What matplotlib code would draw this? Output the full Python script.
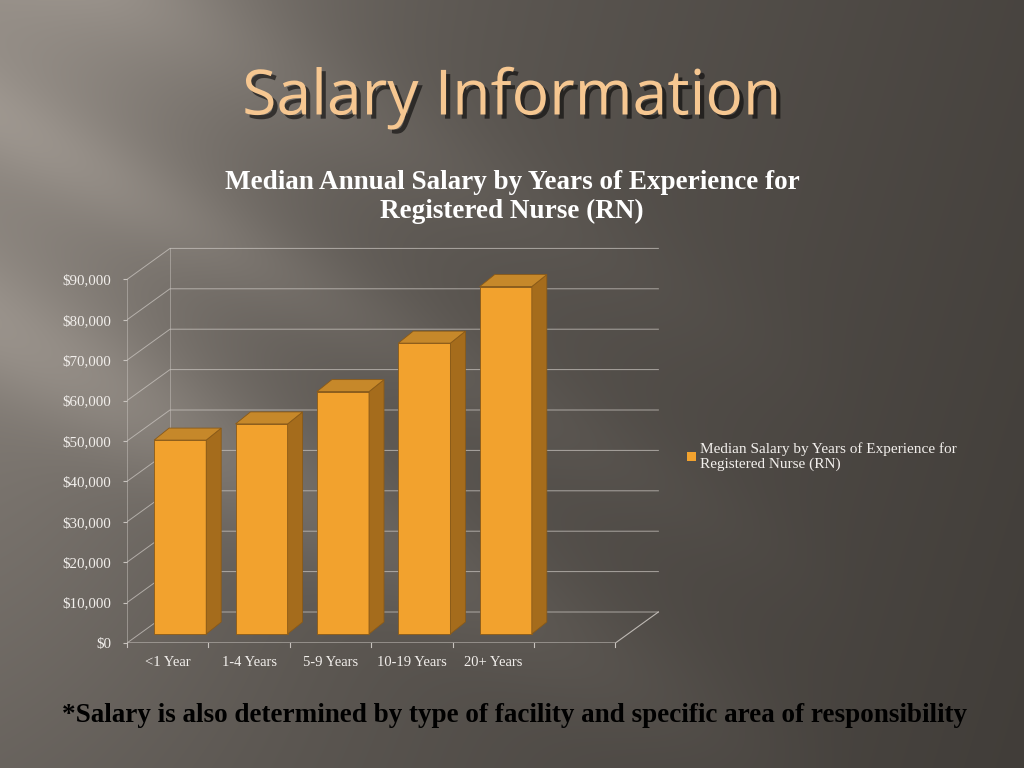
import numpy as np
import matplotlib
matplotlib.use("Agg")
from matplotlib import pyplot as plt
from matplotlib.patches import Polygon
import matplotlib.patheffects as pe

categories = ["<1 Year", "1-4 Years", "5-9 Years", "10-19 Years", "20+ Years"]
salaries = [48000, 52000, 60000, 72000, 86000]
y_ticks = list(range(0, 100000, 10000))
y_labels = ["$0"] + ["${:,}".format(v) for v in y_ticks[1:]]
slide_title = "Salary Information"
chart_title = "Median Annual Salary by Years of Experience for\nRegistered Nurse (RN)"
legend_label = "Median Salary by Years of Experience for\nRegistered Nurse (RN)"
footnote = "*Salary is also determined by type of facility and specific area of responsibility"

W, H = 1024, 768
fig = plt.figure(figsize=(W / 100, H / 100), dpi=100)

# background: dark warm grey, lighter at the left with diagonal light streaks
bg = fig.add_axes([0, 0, 1, 1])
py, px = np.mgrid[0:H, 0:W].astype(float)
base = 0.40 - 0.13 * (px / W) - 0.03 * (py / H)
base += 0.17 * np.exp(-(px / 280.0) ** 2) * np.clip(1 - py / 900.0, 0, 1)
d = py - 0.55 * px
streak = (0.09 * np.exp(-((d - 330) / 70.0) ** 2)
          + 0.06 * np.exp(-((d - 120) / 50.0) ** 2)
          + 0.05 * np.exp(-((d + 80) / 60.0) ** 2))
streak *= np.clip(1.15 - px / 750.0, 0, 1)
lum = base + streak
img = np.dstack([lum + 0.015, lum * 0.965 + 0.008, lum * 0.93])
bg.imshow(np.clip(img, 0, 1), extent=[0, 1, 0, 1], aspect="auto")
bg.axis("off")

# chart area: front axis $0 at (127, 643) px, 81.4 px per category, 40.4 px per $10k
px_cat, px_10k = 81.4, 40.4
x0, x1 = -0.5, 6.3
y0, y1 = 0, 100000
ax = fig.add_axes([127 / W, (H - 643) / H, (x1 - x0) * px_cat / W, 10 * px_10k / H])
ax.set_xlim(x0, x1)
ax.set_ylim(y0, y1)
ax.patch.set_alpha(0)
for s in ax.spines.values():
    s.set_visible(False)

grid_c = "#c9c4bf"
ddx, ddy = 0.528, 7673          # depth vector of the floor
n_slots = len(categories) + 1
xr = x0 + n_slots

# walls and floor
for v in y_ticks:
    ax.plot([x0, x0 + ddx, xr + ddx], [v, v + ddy, v + ddy], color=grid_c, lw=0.7, alpha=0.75)
ax.plot([x0 + ddx, x0 + ddx], [ddy, y_ticks[-1] + ddy], color=grid_c, lw=0.7, alpha=0.5)
ax.plot([x0, x0], [0, y_ticks[-1]], color=grid_c, lw=0.7, alpha=0.5)
ax.plot([x0, xr, xr + ddx], [0, 0, ddy], color=grid_c, lw=0.8, alpha=0.9)
for t in np.arange(x0, xr + 0.01, 1):
    ax.plot([t, t], [0, -900], color=grid_c, lw=0.8, clip_on=False)

# 3D-looking columns
xs = np.arange(len(categories))
bw = 0.64
fdx, fdy = 0.29 * ddx, 0.29 * ddy   # front face sits a bit into the floor
sdx, sdy = 0.184, 2970              # column depth
front_c, side_c, top_c, edge_c = "#f2a22e", "#a56c1c", "#c6882a", "#8a5a18"
ax.bar(xs + fdx, salaries, width=bw, bottom=fdy, color=front_c, edgecolor=edge_c, lw=0.6, zorder=3)
for x, v in zip(xs, salaries):
    l, r = x + fdx - bw / 2, x + fdx + bw / 2
    b, t = fdy, fdy + v
    ax.add_patch(Polygon([(r, b), (r + sdx, b + sdy), (r + sdx, t + sdy), (r, t)],
                         closed=True, fc=side_c, ec=edge_c, lw=0.6, zorder=3))
    ax.add_patch(Polygon([(l, t), (r, t), (r + sdx, t + sdy), (l + sdx, t + sdy)],
                         closed=True, fc=top_c, ec=edge_c, lw=0.6, zorder=3))

serif = ["Liberation Serif", "DejaVu Serif"]
ax.set_yticks(y_ticks)
ax.set_yticklabels(y_labels, family=serif, fontsize=10.8, color="#f2efec")
ax.set_xticks(xs)
ax.set_xticklabels(categories, family=serif, fontsize=10.5, color="#f2efec")
ax.tick_params(axis="y", length=3, color=grid_c, pad=8.5)
ax.tick_params(axis="x", length=0, pad=9)

# legend
ax.bar([0], [0], color=front_c, label=legend_label)
leg = fig.legend(loc="upper left", bbox_to_anchor=(681 / W, 1 - 436 / H), frameon=False,
                 prop={"family": serif, "size": 11}, handlelength=0.55, handleheight=0.55,
                 handletextpad=0.3, borderaxespad=0, labelspacing=0.2)
for txt in leg.get_texts():
    txt.set_color("#f2efec")
    txt.set_linespacing(1.2)

# titles
fig.text(512 / W, 1 - 98 / H, slide_title, ha="center", va="center", family="Open Sans",
         fontsize=45, color="#f6c791",
         path_effects=[pe.withSimplePatchShadow(offset=(3, -3), shadow_rgbFace="black", alpha=0.55)])
fig.text(512 / W, 1 - 197 / H, chart_title, ha="center", va="center", family=serif,
         fontsize=19.5, fontweight="bold", color="white", linespacing=1.2)
fig.text(515 / W, 1 - 715 / H, footnote, ha="center", va="center", family=serif,
         fontsize=19.5, fontweight="bold", color="black")

fig.savefig("out.png", dpi=100)
